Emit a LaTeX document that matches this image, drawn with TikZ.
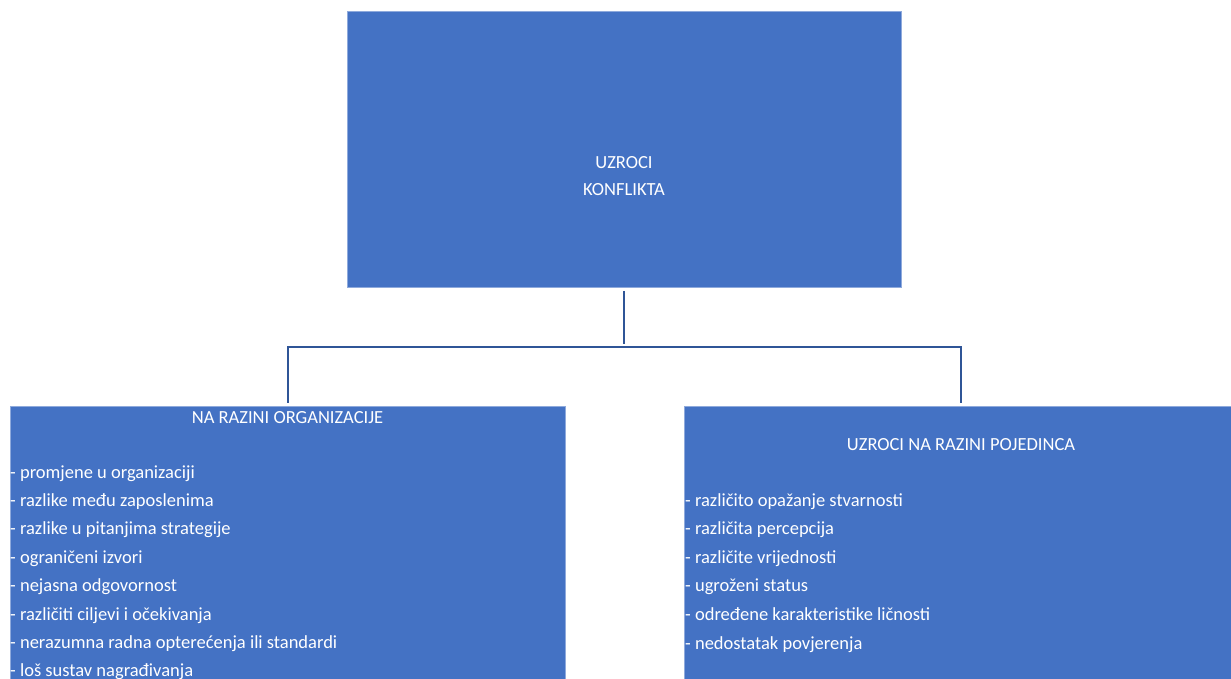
\documentclass[tikz,border=0pt]{standalone}
\usepackage{fontspec}
\setmainfont{Carlito}
\usepackage{tikz}
\definecolor{Kbox}{RGB}{68,114,196}
\definecolor{Kedge}{RGB}{143,170,220}
\definecolor{Kline}{RGB}{47,85,151}

\tikzset{
  kbox/.style={fill=Kbox, draw=Kedge, line width=0.8pt, inner sep=0pt},
  ktext/.style={text=white, font=\fontsize{18.5}{27}\selectfont, inner sep=0pt},
  link/.style={draw=Kline, line width=2pt, shorten <=3pt, shorten >=3pt}
}

\begin{document}
\begin{tikzpicture}[x=1pt, y=-1pt]
    \useasboundingbox (0,0) rectangle (1231,678);
    \clip (0,0) rectangle (1231,678);
    % boxes
    \node [kbox, minimum width=554, minimum height=276] (kon) at (624,149.5) {};
    \node [kbox, minimum width=555, minimum height=300] (org) at (287.5,556) {};
    \node [kbox, minimum width=554, minimum height=300] (poj) at (961,556) {};
    % connectors
    \coordinate (fork) at (624,347);
    \draw [link] (kon.south) -- (fork);
    \draw [link] (org.north) |- (fork) -| (poj.north);
    % texts
    \node [ktext, align=center, anchor=base] (konT) at (624,195)
        {UZROCI\\KONFLIKTA};
    \node [ktext, anchor=base] (orgT) at (287.5,423) {NA RAZINI ORGANIZACIJE};
    \node [ktext, anchor=base] (pojT) at (961,450) {UZROCI NA RAZINI POJEDINCA};
    \foreach \t [count=\i] in {promjene u organizaciji, razlike među zaposlenima,
        razlike u pitanjima strategije, ograničeni izvori, nejasna odgovornost,
        različiti ciljevi i očekivanja, nerazumna radna opterećenja ili standardi,
        loš sustav nagrađivanja}
        \node [ktext, anchor=base west] (org\i) at (10,478+28.4*\i-28.4) {- \t};
    \foreach \t [count=\i] in {različito opažanje stvarnosti, različita percepcija,
        različite vrijednosti, ugroženi status, određene karakteristike ličnosti,
        nedostatak povjerenja}
        \node [ktext, anchor=base west] (poj\i) at (685,506+28.6*\i-28.6) {- \t};
\end{tikzpicture}
\end{document}
